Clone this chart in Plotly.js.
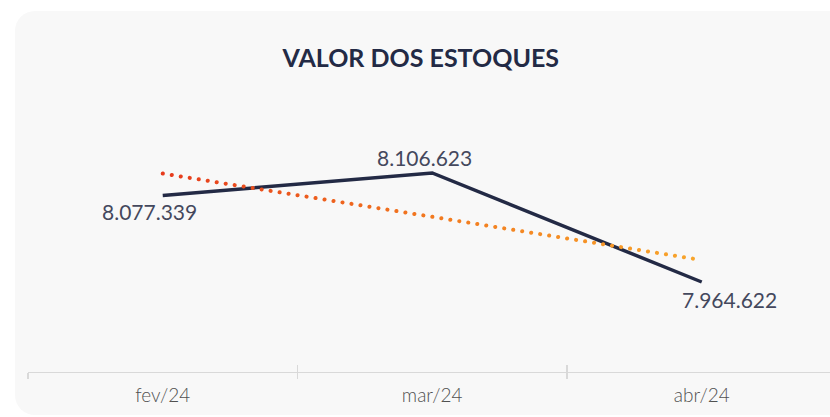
<!DOCTYPE html>
<html><head><meta charset="utf-8">
<script src="https://cdn.plot.ly/plotly-3.0.1.min.js"></script>
<style>
html,body{margin:0;padding:0;background:#ffffff;overflow:hidden;}
#card{position:absolute;left:15px;top:11px;width:870px;height:404px;background:#f8f8f8;border-radius:20px;}
#chart{position:absolute;left:0;top:0;width:830px;height:417px;}
</style></head><body>
<div id="card"></div>
<div id="chart"></div>
<script>
// ---- data ----
const months = ['fev/24', 'mar/24', 'abr/24'];
const stockValues = [8077339, 8106623, 7964622];
const trendMonths = ['fev/24', 'abr/24'];
const trendValues = [8105900, 7993200];
const chartTitle = 'VALOR DOS ESTOQUES';

// ---- style ----
const labelShift = [[-13, -16.5], [-7.5, 15.7], [27.5, -17.5]];
const navy = '#232a45';
const trendColor = '#f07a22';

function fmt(n) { return String(n).replace(/\B(?=(\d{3})+(?!\d))/g, '.'); }

const traces = [
  {x: months, y: stockValues, type: 'scatter', mode: 'lines',
   line: {color: navy, width: 3.5}, hoverinfo: 'skip', xaxis: 'x', yaxis: 'y'},
  {x: trendMonths, y: trendValues, type: 'scatter', mode: 'lines',
   line: {color: trendColor, width: 4, dash: 'dot'}, hoverinfo: 'skip', xaxis: 'x2', yaxis: 'y'}
];

const annotations = months.map((m, i) => ({
  x: m, y: stockValues[i], xref: 'x', yref: 'y', text: fmt(stockValues[i]),
  showarrow: false, xanchor: 'center', yanchor: 'middle',
  xshift: labelShift[i][0], yshift: labelShift[i][1],
  font: {family: 'Lato, sans-serif', size: 21, weight: 400, color: '#44485d'}
}));

const xr = [-0.5, 2.476];
const layout = {
  width: 830, height: 417,
  paper_bgcolor: 'rgba(0,0,0,0)', plot_bgcolor: 'rgba(0,0,0,0)',
  margin: {l: 28, r: 0, t: 100, b: 45},
  showlegend: false,
  title: {text: '<b>' + chartTitle + '</b>', x: 0.507, xanchor: 'center', y: 0.861, yanchor: 'middle',
          xref: 'container', yref: 'container',
          font: {family: 'Lato, sans-serif', size: 25, color: navy}},
  xaxis: {type: 'category', categoryarray: months, range: xr, showgrid: false, zeroline: false,
          showline: true, linecolor: '#d9d9d9', linewidth: 1.3,
          ticks: 'outside', tickson: 'boundaries', ticklen: 6, tickwidth: 1.3, tickcolor: '#d9d9d9',
          ticklabelstandoff: 6,
          tickfont: {family: 'Lato, sans-serif', size: 19, weight: 300, color: '#505050'}, fixedrange: true},
  xaxis2: {type: 'category', categoryarray: months, range: xr, overlaying: 'x', anchor: 'y',
           showgrid: false, zeroline: false, showline: false, showticklabels: false,
           ticks: 'inside', tickson: 'boundaries', ticklen: 7, tickwidth: 1.3, tickcolor: '#d9d9d9', fixedrange: true},
  yaxis: {range: [7847374, 8201725], visible: false, showgrid: false, zeroline: false, fixedrange: true},
  annotations: annotations
};

Plotly.newPlot('chart', traces, layout, {displayModeBar: false, staticPlot: true}).then(gd => {
  const svg = gd.querySelector('svg.main-svg');
  const ns = 'http://www.w3.org/2000/svg';
  let defs = svg.querySelector('defs');
  if (!defs) { defs = document.createElementNS(ns, 'defs'); svg.insertBefore(defs, svg.firstChild); }
  const g = document.createElementNS(ns, 'linearGradient');
  g.setAttribute('id', 'trendGrad');
  g.setAttribute('x1', '0'); g.setAttribute('y1', '0'); g.setAttribute('x2', '1'); g.setAttribute('y2', '0');
  [['0', '#e63a1c'], ['0.5', '#f2791f'], ['1', '#f8a62c']].forEach(([o, c]) => {
    const s = document.createElementNS(ns, 'stop');
    s.setAttribute('offset', o); s.setAttribute('stop-color', c); g.appendChild(s);
  });
  defs.appendChild(g);
  gd.querySelectorAll('path.js-line').forEach(p => {
    if (p.style.stroke.replace(/\s/g, '') === 'rgb(240,122,34)') {
      p.style.stroke = 'url(#trendGrad)';
      p.style.strokeLinecap = 'round';
      p.style.strokeDasharray = '0.1px, 9px';
    }
  });
});
</script>
</body></html>
